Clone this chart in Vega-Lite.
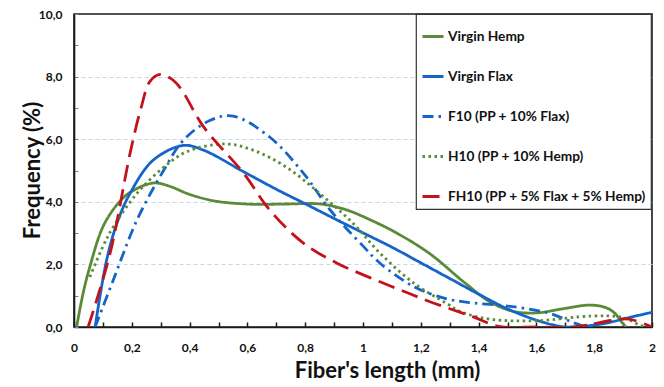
{
  "$schema": "https://vega.github.io/schema/vega-lite/v6.json",
  "width": 578,
  "height": 313,
  "autosize": {"type": "none"},
  "padding": {"left": 74, "top": 14, "right": 12, "bottom": 60},
  "background": "white",
  "config": {
    "view": {"stroke": "#1a1a1a", "strokeWidth": 1.6},
    "legend": {
      "orient": "none",
      "legendX": 342,
      "legendY": 0,
      "padding": 5,
      "fillColor": "white",
      "strokeColor": "#333",
      "strokeWidth": 1.2,
      "symbolType": "stroke",
      "symbolSize": 441,
      "symbolStrokeWidth": 3,
      "symbolOffset": 0,
      "rowPadding": 21,
      "labelOffset": 3,
      "labelFont": "Lato",
      "labelFontSize": 13.7,
      "labelFontWeight": "bold",
      "labelColor": "#111",
      "labelLimit": 400,
      "titleFontSize": 2,
      "titlePadding": 3.5
    }
  },
  "data": {
    "values": [
      {"series": "Virgin Hemp", "x": 0.009, "y": 0},
      {"series": "Virgin Hemp", "x": 0.032, "y": 1.1},
      {"series": "Virgin Hemp", "x": 0.055, "y": 1.93},
      {"series": "Virgin Hemp", "x": 0.1, "y": 3.2},
      {"series": "Virgin Hemp", "x": 0.15, "y": 3.92},
      {"series": "Virgin Hemp", "x": 0.194, "y": 4.3},
      {"series": "Virgin Hemp", "x": 0.274, "y": 4.6},
      {"series": "Virgin Hemp", "x": 0.33, "y": 4.5},
      {"series": "Virgin Hemp", "x": 0.39, "y": 4.27},
      {"series": "Virgin Hemp", "x": 0.45, "y": 4.1},
      {"series": "Virgin Hemp", "x": 0.505, "y": 4.0},
      {"series": "Virgin Hemp", "x": 0.62, "y": 3.92},
      {"series": "Virgin Hemp", "x": 0.74, "y": 3.93},
      {"series": "Virgin Hemp", "x": 0.852, "y": 3.93},
      {"series": "Virgin Hemp", "x": 0.94, "y": 3.75},
      {"series": "Virgin Hemp", "x": 1.026, "y": 3.42},
      {"series": "Virgin Hemp", "x": 1.117, "y": 3.0},
      {"series": "Virgin Hemp", "x": 1.23, "y": 2.35},
      {"series": "Virgin Hemp", "x": 1.35, "y": 1.43},
      {"series": "Virgin Hemp", "x": 1.44, "y": 0.8},
      {"series": "Virgin Hemp", "x": 1.52, "y": 0.5},
      {"series": "Virgin Hemp", "x": 1.6, "y": 0.45},
      {"series": "Virgin Hemp", "x": 1.69, "y": 0.58},
      {"series": "Virgin Hemp", "x": 1.786, "y": 0.7},
      {"series": "Virgin Hemp", "x": 1.84, "y": 0.62},
      {"series": "Virgin Hemp", "x": 1.87, "y": 0.45},
      {"series": "Virgin Hemp", "x": 1.9, "y": 0.1},
      {"series": "Virgin Hemp", "x": 1.91, "y": 0},

      {"series": "Virgin Flax", "x": 0.073, "y": 0},
      {"series": "Virgin Flax", "x": 0.113, "y": 2.14},
      {"series": "Virgin Flax", "x": 0.15, "y": 3.35},
      {"series": "Virgin Flax", "x": 0.194, "y": 4.27},
      {"series": "Virgin Flax", "x": 0.274, "y": 5.33},
      {"series": "Virgin Flax", "x": 0.378, "y": 5.8},
      {"series": "Virgin Flax", "x": 0.448, "y": 5.65},
      {"series": "Virgin Flax", "x": 0.587, "y": 4.96},
      {"series": "Virgin Flax", "x": 0.7, "y": 4.4},
      {"series": "Virgin Flax", "x": 0.795, "y": 3.96},
      {"series": "Virgin Flax", "x": 0.91, "y": 3.42},
      {"series": "Virgin Flax", "x": 1.026, "y": 2.89},
      {"series": "Virgin Flax", "x": 1.1, "y": 2.55},
      {"series": "Virgin Flax", "x": 1.2, "y": 2.05},
      {"series": "Virgin Flax", "x": 1.3, "y": 1.55},
      {"series": "Virgin Flax", "x": 1.4, "y": 1.05},
      {"series": "Virgin Flax", "x": 1.5, "y": 0.58},
      {"series": "Virgin Flax", "x": 1.61, "y": 0.19},
      {"series": "Virgin Flax", "x": 1.7, "y": 0},
      {"series": "Virgin Flax", "x": 1.77, "y": 0.03},
      {"series": "Virgin Flax", "x": 1.84, "y": 0.12},
      {"series": "Virgin Flax", "x": 1.92, "y": 0.3},
      {"series": "Virgin Flax", "x": 2.0, "y": 0.47},

      {"series": "F10 (PP + 10% Flax)", "x": 0.073, "y": 0},
      {"series": "F10 (PP + 10% Flax)", "x": 0.136, "y": 1.5},
      {"series": "F10 (PP + 10% Flax)", "x": 0.218, "y": 3.42},
      {"series": "F10 (PP + 10% Flax)", "x": 0.31, "y": 5.0},
      {"series": "F10 (PP + 10% Flax)", "x": 0.378, "y": 5.96},
      {"series": "F10 (PP + 10% Flax)", "x": 0.47, "y": 6.6},
      {"series": "F10 (PP + 10% Flax)", "x": 0.55, "y": 6.74},
      {"series": "F10 (PP + 10% Flax)", "x": 0.677, "y": 6.07},
      {"series": "F10 (PP + 10% Flax)", "x": 0.795, "y": 4.9},
      {"series": "F10 (PP + 10% Flax)", "x": 0.887, "y": 3.73},
      {"series": "F10 (PP + 10% Flax)", "x": 1.003, "y": 2.56},
      {"series": "F10 (PP + 10% Flax)", "x": 1.06, "y": 2.03},
      {"series": "F10 (PP + 10% Flax)", "x": 1.176, "y": 1.29},
      {"series": "F10 (PP + 10% Flax)", "x": 1.29, "y": 0.9},
      {"series": "F10 (PP + 10% Flax)", "x": 1.38, "y": 0.77},
      {"series": "F10 (PP + 10% Flax)", "x": 1.5, "y": 0.67},
      {"series": "F10 (PP + 10% Flax)", "x": 1.64, "y": 0.45},
      {"series": "F10 (PP + 10% Flax)", "x": 1.73, "y": 0.13},
      {"series": "F10 (PP + 10% Flax)", "x": 1.77, "y": 0},

      {"series": "H10 (PP + 10% Hemp)", "x": 0.055, "y": 1.6},
      {"series": "H10 (PP + 10% Hemp)", "x": 0.1, "y": 2.57},
      {"series": "H10 (PP + 10% Hemp)", "x": 0.136, "y": 3.2},
      {"series": "H10 (PP + 10% Hemp)", "x": 0.218, "y": 4.27},
      {"series": "H10 (PP + 10% Hemp)", "x": 0.31, "y": 5.1},
      {"series": "H10 (PP + 10% Hemp)", "x": 0.39, "y": 5.6},
      {"series": "H10 (PP + 10% Hemp)", "x": 0.52, "y": 5.85},
      {"series": "H10 (PP + 10% Hemp)", "x": 0.62, "y": 5.65},
      {"series": "H10 (PP + 10% Hemp)", "x": 0.736, "y": 5.1},
      {"series": "H10 (PP + 10% Hemp)", "x": 0.852, "y": 4.25},
      {"series": "H10 (PP + 10% Hemp)", "x": 0.967, "y": 3.3},
      {"series": "H10 (PP + 10% Hemp)", "x": 1.06, "y": 2.35},
      {"series": "H10 (PP + 10% Hemp)", "x": 1.176, "y": 1.4},
      {"series": "H10 (PP + 10% Hemp)", "x": 1.29, "y": 0.75},
      {"series": "H10 (PP + 10% Hemp)", "x": 1.34, "y": 0.48},
      {"series": "H10 (PP + 10% Hemp)", "x": 1.44, "y": 0.25},
      {"series": "H10 (PP + 10% Hemp)", "x": 1.6, "y": 0.2},
      {"series": "H10 (PP + 10% Hemp)", "x": 1.79, "y": 0.35},
      {"series": "H10 (PP + 10% Hemp)", "x": 1.9, "y": 0.3},
      {"series": "H10 (PP + 10% Hemp)", "x": 1.96, "y": 0.05},
      {"series": "H10 (PP + 10% Hemp)", "x": 1.98, "y": 0},

      {"series": "FH10 (PP + 5% Flax + 5% Hemp)", "x": 0.049, "y": 0},
      {"series": "FH10 (PP + 5% Flax + 5% Hemp)", "x": 0.125, "y": 2.36},
      {"series": "FH10 (PP + 5% Flax + 5% Hemp)", "x": 0.194, "y": 5.55},
      {"series": "FH10 (PP + 5% Flax + 5% Hemp)", "x": 0.232, "y": 7.0},
      {"series": "FH10 (PP + 5% Flax + 5% Hemp)", "x": 0.263, "y": 7.85},
      {"series": "FH10 (PP + 5% Flax + 5% Hemp)", "x": 0.298, "y": 8.07},
      {"series": "FH10 (PP + 5% Flax + 5% Hemp)", "x": 0.333, "y": 7.95},
      {"series": "FH10 (PP + 5% Flax + 5% Hemp)", "x": 0.367, "y": 7.65},
      {"series": "FH10 (PP + 5% Flax + 5% Hemp)", "x": 0.448, "y": 6.4},
      {"series": "FH10 (PP + 5% Flax + 5% Hemp)", "x": 0.587, "y": 4.91},
      {"series": "FH10 (PP + 5% Flax + 5% Hemp)", "x": 0.677, "y": 3.74},
      {"series": "FH10 (PP + 5% Flax + 5% Hemp)", "x": 0.795, "y": 2.67},
      {"series": "FH10 (PP + 5% Flax + 5% Hemp)", "x": 0.91, "y": 2.04},
      {"series": "FH10 (PP + 5% Flax + 5% Hemp)", "x": 1.026, "y": 1.57},
      {"series": "FH10 (PP + 5% Flax + 5% Hemp)", "x": 1.13, "y": 1.18},
      {"series": "FH10 (PP + 5% Flax + 5% Hemp)", "x": 1.234, "y": 0.8},
      {"series": "FH10 (PP + 5% Flax + 5% Hemp)", "x": 1.38, "y": 0.33},
      {"series": "FH10 (PP + 5% Flax + 5% Hemp)", "x": 1.47, "y": 0.02},
      {"series": "FH10 (PP + 5% Flax + 5% Hemp)", "x": 1.6, "y": 0},
      {"series": "FH10 (PP + 5% Flax + 5% Hemp)", "x": 1.73, "y": 0},
      {"series": "FH10 (PP + 5% Flax + 5% Hemp)", "x": 1.8, "y": 0.1},
      {"series": "FH10 (PP + 5% Flax + 5% Hemp)", "x": 1.85, "y": 0.2},
      {"series": "FH10 (PP + 5% Flax + 5% Hemp)", "x": 1.92, "y": 0.25},
      {"series": "FH10 (PP + 5% Flax + 5% Hemp)", "x": 2.0, "y": 0}
    ]
  },
  "mark": {"type": "line", "interpolate": "catmull-rom", "strokeWidth": 2.8, "strokeCap": "butt", "clip": true},
  "encoding": {
    "x": {
      "field": "x",
      "type": "quantitative",
      "scale": {"domain": [0, 2], "nice": false, "zero": false},
      "axis": {
        "values": [0, 0.1, 0.2, 0.3, 0.4, 0.5, 0.6, 0.7, 0.8, 0.9, 1, 1.1, 1.2, 1.3, 1.4, 1.5, 1.6, 1.7, 1.8, 1.9, 2],
        "labelExpr": "round(datum.value * 10) % 2 == 0 ? replace(format(datum.value, '~g'), '.', ',') : ''",
        "labelOverlap": false,
        "labelFlush": false,
        "grid": false,
        "tickSize": -5,
        "tickWidth": 1.5,
        "tickColor": "#1a1a1a",
        "domainColor": "#1a1a1a",
        "domainWidth": 1.6,
        "labelFont": "Lato",
        "labelFontSize": 12,
        "labelFontWeight": "bold",
        "labelColor": "#111",
        "labelPadding": 20,
        "title": "Fiber's length (mm)",
        "titleFont": "Lato",
        "titleFontSize": 22,
        "titleFontWeight": "bold",
        "titleColor": "#111",
        "titleAlign": "center",
        "titleBaseline": "alphabetic",
        "titleX": 313,
        "titleY": 50
      }
    },
    "y": {
      "field": "y",
      "type": "quantitative",
      "scale": {"domain": [0, 10], "nice": false},
      "axis": {
        "values": [0, 1, 2, 3, 4, 5, 6, 7, 8, 9, 10],
        "labelExpr": "datum.value % 2 == 0 ? replace(format(datum.value, '.1f'), '.', ',') : ''",
        "labelOverlap": false,
        "labelFlush": false,
        "grid": true,
        "gridColor": "#c3d7f0",
        "gridDash": [4, 3],
        "gridWidth": 1,
        "gridOpacity": {"condition": {"test": "datum.value % 2 == 1 || datum.value == 0 || datum.value == 10", "value": 0}, "value": 1},
        "tickSize": -4,
        "tickWidth": 1,
        "tickColor": "#5b8fd0",
        "domainColor": "#1a1a1a",
        "domainWidth": 1.6,
        "labelFont": "Lato",
        "labelFontSize": 12,
        "labelFontWeight": "bold",
        "labelColor": "#111",
        "labelPadding": 16,
        "title": "Frequency (%)",
        "titleFont": "Lato",
        "titleFontSize": 22,
        "titleFontWeight": "bold",
        "titleColor": "#111",
        "titleAngle": -90,
        "titleAlign": "center",
        "titleBaseline": "middle",
        "titleX": -42,
        "titleY": 156
      }
    },
    "color": {
      "field": "series",
      "type": "nominal",
      "scale": {
        "domain": ["Virgin Hemp", "Virgin Flax", "F10 (PP + 10% Flax)", "H10 (PP + 10% Hemp)", "FH10 (PP + 5% Flax + 5% Hemp)"],
        "range": ["#5b8b37", "#1565c8", "#1565c8", "#5b8b37", "#c4121a"]
      },
      "legend": {"title": " "}
    },
    "strokeDash": {
      "field": "series",
      "type": "nominal",
      "scale": {
        "domain": ["Virgin Hemp", "Virgin Flax", "F10 (PP + 10% Flax)", "H10 (PP + 10% Hemp)", "FH10 (PP + 5% Flax + 5% Hemp)"],
        "range": [[1, 0], [1, 0], [11, 5, 2.5, 5], [2.5, 3.5], [17, 8]]
      },
      "legend": {"title": " "}
    }
  }
}
